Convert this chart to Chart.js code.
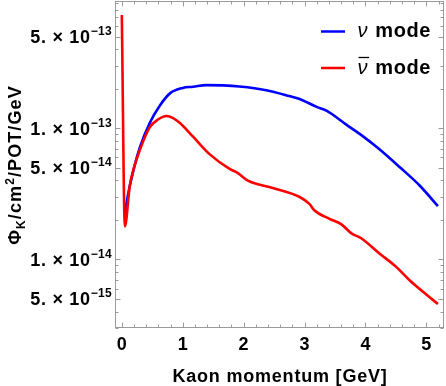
<!DOCTYPE html>
<html><head><meta charset="utf-8">
<script src="https://cdn.jsdelivr.net/npm/chart.js@4"></script>
<style>html,body{margin:0;padding:0;background:#fff;}#wrap{width:446px;height:386px;}</style>
</head><body><div id="wrap"><canvas id="c" width="446" height="386"></canvas></div>
<script>
// ---- data ----
const nuX = [0.05, 0.1, 0.21, 0.3, 0.46, 0.62, 0.8, 1.0, 1.17, 1.39, 1.66, 1.93, 2.37, 2.75, 2.92, 3.19, 3.36, 3.68, 3.95, 4.23, 4.56, 4.89, 5.19];
const nuY = [2.24e-14, 3.09e-14, 5.19e-14, 7.24e-14, 1.10e-13, 1.48e-13, 1.86e-13, 2.03e-13, 2.07e-13, 2.13e-13, 2.12e-13, 2.08e-13, 1.95e-13, 1.76e-13, 1.67e-13, 1.46e-13, 1.36e-13, 1.07e-13, 8.75e-14, 6.92e-14, 5.07e-14, 3.66e-14, 2.55e-14];
const nubarX = [0, 0.05, 0.13, 0.2, 0.3, 0.46, 0.6, 0.73, 0.85, 0.95, 1.17, 1.44, 1.77, 1.9, 2.07, 2.48, 2.92, 3.08, 3.16, 3.41, 3.6, 3.77, 3.93, 4.23, 4.5, 4.72, 4.94, 5.19];
const nubarY = [7.31e-13, 1.78e-14, 3.63e-14, 5.01e-14, 6.92e-14, 1.02e-13, 1.17e-13, 1.24e-13, 1.19e-13, 1.10e-13, 8.62e-14, 6.35e-14, 4.90e-14, 4.57e-14, 3.98e-14, 3.50e-14, 2.99e-14, 2.65e-14, 2.37e-14, 2.04e-14, 1.86e-14, 1.58e-14, 1.45e-14, 1.11e-14, 8.81e-15, 6.97e-15, 5.69e-15, 4.57e-15];
const seriesNames = ['ν', 'ν'];
const seriesSuffix = ' mode';
const xTickValues = [0, 1, 2, 3, 4, 5];
const yTickValues = [5e-15, 1e-14, 5e-14, 1e-13, 5e-13];
const yTickMantissas = ['5.', '1.', '5.', '1.', '5.'];
const yTickExponents = ['−15', '−14', '−14', '−13', '−13'];
const xTitle = 'Kaon momentum [GeV]';
const yTitleParts = ['Φ', 'K', '/cm', '2', '/POT/GeV'];

const FONT = '"Liberation Sans", Arial, sans-serif';
const FRAME = '#9a9a9a';

const decor = {
  id: 'decor',
  afterDraw(chart) {
    const ctx = chart.ctx, a = chart.chartArea, xs = chart.scales.x, ys = chart.scales.y;
    const L = Math.round(a.left) + 0.5, R = Math.round(a.right) - 0.5, T = Math.round(a.top) + 0.5, B = Math.round(a.bottom) - 0.5;
    ctx.save();
    ctx.strokeStyle = FRAME; ctx.lineWidth = 1;
    ctx.strokeRect(L, T, R - L, B - T);
    ctx.beginPath();
    for (let k = 0; k <= 26; k++) {
      const v = k * 0.2;
      if (v < xs.min || v > xs.max) continue;
      const px = Math.round(xs.getPixelForValue(v)) + 0.5;
      const len = (k % 5 === 0) ? 5 : 3;
      ctx.moveTo(px, B); ctx.lineTo(px, B - len);
      ctx.moveTo(px, T); ctx.lineTo(px, T + len);
    }
    for (let e = -16; e <= -12; e++) {
      for (let m = 1; m <= 9; m++) {
        const v = m * Math.pow(10, e);
        if (v < ys.min || v > ys.max) continue;
        const py = Math.round(ys.getPixelForValue(v)) + 0.5;
        const len = (m === 1 || m === 5) ? 5 : 3;
        ctx.moveTo(L, py); ctx.lineTo(L + len, py);
        ctx.moveTo(R, py); ctx.lineTo(R - len, py);
      }
    }
    ctx.stroke();

    ctx.fillStyle = '#000';
    ctx.textBaseline = 'alphabetic';
    // y tick labels
    yTickValues.forEach((v, i) => {
      const py = ys.getPixelForValue(v);
      const right = 112;
      ctx.letterSpacing = '0.3px';
      ctx.font = 'bold 12px ' + FONT;
      const sw = ctx.measureText(yTickExponents[i]).width;
      ctx.textAlign = 'left';
      ctx.fillText(yTickExponents[i], right - sw, py - 1.5);
      ctx.letterSpacing = '0.7px';
      ctx.font = 'bold 18px ' + FONT;
      ctx.textAlign = 'right';
      ctx.fillText(yTickMantissas[i] + ' \u00d7 10', right - sw, py + 6.3);
    });

    // x title
    ctx.letterSpacing = '0.8px';
    ctx.font = 'bold 18px ' + FONT;
    ctx.textAlign = 'center';
    ctx.fillText(xTitle, (a.left + a.right) / 2 + 0.5, 381.5);

    // y title (rotated)
    ctx.save();
    ctx.translate(21, (a.top + a.bottom) / 2 + 0.5);
    ctx.rotate(-Math.PI / 2);
    ctx.letterSpacing = '1.1px';
    const fonts = ['bold 18px ', 'bold 12px ', 'bold 18px ', 'bold 12px ', 'bold 18px '];
    const dys = [0, 4, 0, -7, 0];
    let W = 0;
    yTitleParts.forEach((t, i) => { ctx.font = fonts[i] + FONT; W += ctx.measureText(t).width; });
    let x = -W / 2;
    ctx.textAlign = 'left';
    yTitleParts.forEach((t, i) => { ctx.font = fonts[i] + FONT; ctx.fillText(t, x, dys[i]); x += ctx.measureText(t).width; });
    ctx.restore();

    // legend
    const ds = chart.data.datasets;
    const rows = [{y: 31.5, i: 1, bar: false}, {y: 68, i: 0, bar: true}];
    ctx.letterSpacing = '0.6px';
    rows.forEach(r => {
      const d = ds[r.i];
      ctx.strokeStyle = d.borderColor; ctx.lineWidth = 2.5;
      ctx.beginPath(); ctx.moveTo(321, r.y); ctx.lineTo(345, r.y); ctx.stroke();
      ctx.font = 'italic 20px ' + FONT;
      ctx.textAlign = 'left';
      const tx = 357.5, base = r.y + 5.5;
      ctx.fillText(d.nuSymbol, tx, base);
      const nw = ctx.measureText(d.nuSymbol).width;
      if (r.bar) {
        ctx.strokeStyle = '#000'; ctx.lineWidth = 1.3;
        ctx.beginPath(); ctx.moveTo(tx + 1, base - 16); ctx.lineTo(tx + nw + 1, base - 16); ctx.stroke();
      }
      ctx.font = 'bold 20px ' + FONT;
      ctx.fillText(seriesSuffix, tx + nw + 1, base);
    });
    ctx.restore();
  }
};

new Chart(document.getElementById('c'), {
  type: 'line',
  data: {
    datasets: [
      { label: 'ν̄' + seriesSuffix, nuSymbol: seriesNames[1], order: 0,
        data: nubarX.map((x, i) => ({x: x, y: nubarY[i]})),
        borderColor: '#ff0000', borderWidth: 2.6, pointRadius: 0, fill: false, cubicInterpolationMode: 'monotone' },
      { label: 'ν' + seriesSuffix, nuSymbol: seriesNames[0], order: 1,
        data: nuX.map((x, i) => ({x: x, y: nuY[i]})),
        borderColor: '#0000ff', borderWidth: 2.6, pointRadius: 0, fill: false, cubicInterpolationMode: 'monotone' }
    ]
  },
  options: {
    responsive: false, animation: false, devicePixelRatio: 1,
    layout: { padding: { top: 1, right: 2, left: 0, bottom: 0 } },
    plugins: { legend: { display: false }, tooltip: { enabled: false } },
    scales: {
      x: {
        type: 'linear', min: -0.112, max: 5.29,
        afterBuildTicks: s => { s.ticks = xTickValues.map(v => ({value: v})); },
        afterFit: s => { s.height = 58; },
        grid: { display: false, drawTicks: false }, border: { display: false },
        ticks: { color: '#000', padding: 6, maxRotation: 0, autoSkip: false,
                 font: { family: FONT, size: 18, weight: 'bold' }, callback: v => String(v) }
      },
      y: {
        type: 'logarithmic', min: 3.107e-15, max: 9.33e-13,
        afterFit: s => { s.width = 115; },
        grid: { display: false, drawTicks: false }, border: { display: false },
        ticks: { display: false }
      }
    }
  },
  plugins: [decor]
});
</script></body></html>
